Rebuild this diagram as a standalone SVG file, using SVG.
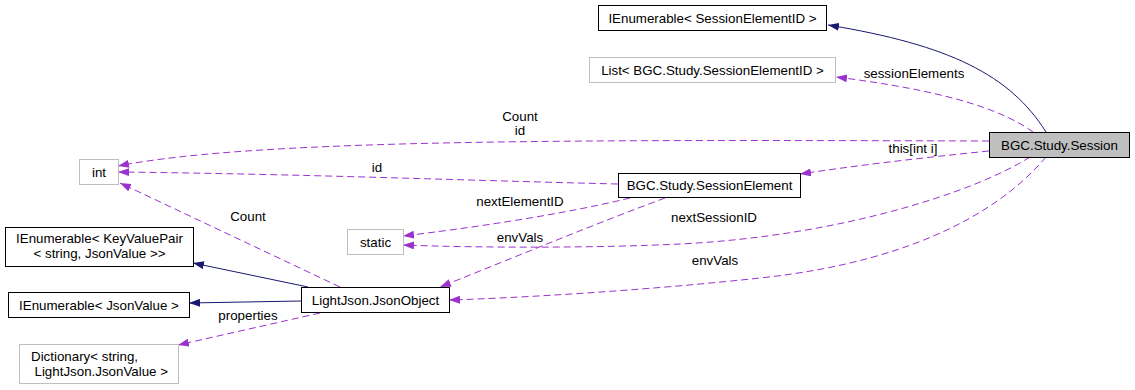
<svg xmlns="http://www.w3.org/2000/svg" width="1135" height="390" viewBox="0 0 1135 390">
  <style>
    text { font-family: "Liberation Sans", Arial, sans-serif; font-size: 13.33px; fill: #000; }
    .mid { text-anchor: middle; }
    .box { fill: #fff; stroke: #000; stroke-width: 1; }
    .ext { fill: #fff; stroke: #bfbfbf; stroke-width: 1; }
    .main { fill: #bfbfbf; stroke: #000; stroke-width: 1; }
    .use { fill: none; stroke: #9a32cd; stroke-width: 1; stroke-dasharray: 7,4; marker-end: url(#purple); }
    .inh { fill: none; stroke: #191970; stroke-width: 1; marker-end: url(#navy); }
  </style>
  <defs>
    <marker id="purple" viewBox="0 0 11 8" refX="11" refY="4" markerWidth="11" markerHeight="8" markerUnits="userSpaceOnUse" orient="auto">
      <path d="M0,0 L11,4 L0,8 z" fill="#9a32cd"/>
    </marker>
    <marker id="navy" viewBox="0 0 11 8" refX="11" refY="4" markerWidth="11" markerHeight="8" markerUnits="userSpaceOnUse" orient="auto">
      <path d="M0,0 L11,4 L0,8 z" fill="#191970"/>
    </marker>
  </defs>

  <!-- connectors -->
  <g id="edges">
    <path class="inh" d="M1046,132 C1010,75 950,45 828,25"/>
    <path class="use" d="M1033,132 C1000,108 940,90 836,77"/>
    <text class="mid" x="914" y="77.5">sessionElements</text>
    <path class="use" d="M989,141 C600,140 260,138 118,166"/>
    <text class="mid" x="520" y="120.5">Count</text>
    <text class="mid" x="520" y="134.5">id</text>
    <path class="use" d="M618,184 C450,180 300,174 118,172"/>
    <text class="mid" x="377" y="171.5">id</text>
    <path class="use" d="M989,151 C920,158 860,165 800,174"/>
    <text class="mid" x="913" y="152.5">this[int i]</text>
    <path class="use" d="M630,198 C560,215 470,228 403,236"/>
    <text class="mid" x="520" y="205.5">nextElementID</text>
    <path class="use" d="M1030,157 C975,192 840,236 680,244 C600,248 480,248 403,245"/>
    <text class="mid" x="714" y="221.5">nextSessionID</text>
    <path class="use" d="M665,198 C600,222 520,255 440,287"/>
    <text class="mid" x="520" y="241.5">envVals</text>
    <path class="use" d="M1046,157 C1010,200 930,260 760,278 C650,290 520,298 449,300"/>
    <text class="mid" x="715" y="264.5">envVals</text>
    <path class="use" d="M340,287 L120,183"/>
    <text class="mid" x="248" y="220.5">Count</text>
    <path class="inh" d="M308,287 L193,263"/>
    <path class="inh" d="M301,301 L189,303"/>
    <path class="use" d="M320,313 L178,345"/>
    <text class="mid" x="248" y="319.5">properties</text>
  </g>

  <!-- nodes -->
  <g id="node-ienum-sessionelementid">
    <rect class="box" x="598.5" y="5.5" width="228" height="25"/>
    <text class="mid" x="712.5" y="22.5">IEnumerable&lt; SessionElementID &gt;</text>
  </g>
  <g id="node-list-sessionelementid">
    <rect class="ext" x="589.5" y="57.5" width="246" height="25"/>
    <text class="mid" x="712.5" y="74.5">List&lt; BGC.Study.SessionElementID &gt;</text>
  </g>
  <g id="node-session">
    <rect class="main" x="989.5" y="132.5" width="140" height="25"/>
    <text class="mid" x="1059.5" y="149.5">BGC.Study.Session</text>
  </g>
  <g id="node-int">
    <rect class="ext" x="79.5" y="159.5" width="39" height="25"/>
    <text class="mid" x="99" y="176.5">int</text>
  </g>
  <g id="node-sessionelement">
    <rect class="box" x="618.5" y="173.5" width="182" height="24"/>
    <text class="mid" x="709.5" y="190">BGC.Study.SessionElement</text>
  </g>
  <g id="node-static">
    <rect class="ext" x="347.5" y="229.5" width="56" height="25"/>
    <text class="mid" x="375.5" y="246.5">static</text>
  </g>
  <g id="node-ienum-keyvaluepair">
    <rect class="box" x="5.5" y="227.5" width="188" height="39"/>
    <text class="mid" x="99.5" y="243">IEnumerable&lt; KeyValuePair</text>
    <text class="mid" x="99.5" y="258">&lt; string, JsonValue &gt;&gt;</text>
  </g>
  <g id="node-jsonobject">
    <rect class="box" x="301.5" y="287.5" width="148" height="25"/>
    <text class="mid" x="375.5" y="304.5">LightJson.JsonObject</text>
  </g>
  <g id="node-ienum-jsonvalue">
    <rect class="box" x="8.5" y="292.5" width="181" height="25"/>
    <text class="mid" x="99" y="309.5">IEnumerable&lt; JsonValue &gt;</text>
  </g>
  <g id="node-dictionary">
    <rect class="ext" x="19.5" y="344.5" width="159" height="39"/>
    <text x="31" y="361">Dictionary&lt; string,</text>
    <text x="34.5" y="376">LightJson.JsonValue &gt;</text>
  </g>
</svg>
